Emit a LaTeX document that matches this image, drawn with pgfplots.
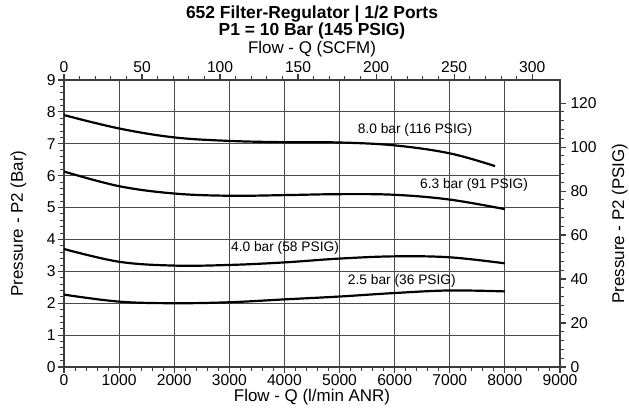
\documentclass[border=0pt]{standalone}
\usepackage{pgfplots}
\pgfplotsset{compat=1.18}
\usepackage{fontspec}
\setmainfont{Liberation Sans}
\definecolor{gridc}{HTML}{4A4A4A}
\definecolor{axc}{HTML}{3C3C3C}
\begin{document}
\begin{tikzpicture}
\path[use as bounding box] (-64bp,-42bp) rectangle (565bp,367bp);
\pgfplotsset{every axis/.append style={
  font=\fontsize{15.7}{17}\selectfont,
  /pgf/number format/assume math mode=true,
  scale only axis, width=496bp, height=287bp,
  at={(0,0)}, anchor=south west,
  major tick length=6bp, minor tick length=3.5bp,
  axis line style={axc, line width=1.5pt},
  every tick/.style={axc, line width=1.2pt},
  every minor tick/.style={axc, line width=0.9pt},
}}
\begin{axis}[
  xmin=0, xmax=9000, ymin=0, ymax=9,
  xtick={0,1000,...,9000}, ytick={0,1,...,9},
  minor x tick num=4, minor y tick num=4,
  xtick pos=bottom, ytick pos=left,
  tick align=outside,
  grid=major, major grid style={gridc, line width=0.9pt},
  xticklabel style={yshift=2bp},
  yticklabel style={xshift=1bp},
  scaled x ticks=false,
  xticklabel={\pgfmathprintnumber[fixed,1000 sep={}]{\tick}},
]
\addplot[black, line width=2.2pt, smooth, tension=0.6] coordinates {
 (0,7.9) (1000,7.48) (2000,7.2) (3000,7.09) (4000,7.05) (5000,7.04) (6000,6.95) (7000,6.7) (7820,6.3)};
\addplot[black, line width=2.2pt, smooth, tension=0.6] coordinates {
 (0,6.13) (1000,5.67) (2000,5.44) (3000,5.37) (4000,5.39) (5000,5.42) (6000,5.40) (7000,5.25) (8000,4.95)};
\addplot[black, line width=2.2pt, smooth, tension=0.6] coordinates {
 (0,3.7) (1000,3.3) (2000,3.18) (3000,3.2) (4000,3.28) (5000,3.4) (6000,3.47) (7000,3.44) (8000,3.25)};
\addplot[black, line width=2.2pt, smooth, tension=0.6] coordinates {
 (0,2.27) (1000,2.05) (2000,2.0) (3000,2.03) (4000,2.12) (5000,2.21) (6000,2.32) (7000,2.4) (8000,2.37)};
\node[font=\fontsize{13.8}{15}\selectfont] at (axis cs:6370,7.43) {8.0 bar (116 PSIG)};
\node[font=\fontsize{13.8}{15}\selectfont] at (axis cs:7440,5.7) {6.3 bar (91 PSIG)};
\node[font=\fontsize{13.8}{15}\selectfont] at (axis cs:4010,3.73) {4.0 bar (58 PSIG)};
\node[font=\fontsize{13.8}{15}\selectfont] at (axis cs:6130,2.7) {2.5 bar (36 PSIG)};
\end{axis}
\begin{axis}[
  xmin=0, xmax=317.83, ymin=0, ymax=130.53,
  axis x line*=top, axis y line*=right,
  xtick={0,50,...,300}, ytick={0,20,...,120},
  minor x tick num=4, minor y tick num=4,
  tick align=outside,
  xticklabel style={yshift=-2bp},
  yticklabel style={xshift=1bp},
]
\end{axis}
\node[font=\fontsize{17.5}{19}\selectfont\bfseries, anchor=base] at (248bp,348.7bp) {652 Filter-Regulator | 1/2 Ports};
\node[font=\fontsize{17.5}{19}\selectfont\bfseries, anchor=base] at (248bp,331bp) {P1 = 10 Bar (145 PSIG)};
\node[font=\fontsize{17}{18}\selectfont, anchor=base] at (248bp,313.7bp) {Flow - Q (SCFM)};
\node[font=\fontsize{17}{18}\selectfont, anchor=base] at (248bp,-34.7bp) {Flow - Q (l/min ANR)};
\node[font=\fontsize{17}{18}\selectfont, rotate=90, anchor=base] at (-41bp,143.5bp) {Pressure - P2 (Bar)};
\node[font=\fontsize{17}{18}\selectfont, rotate=90, anchor=base] at (560bp,143.5bp) {Pressure - P2 (PSIG)};
\end{tikzpicture}
\end{document}
